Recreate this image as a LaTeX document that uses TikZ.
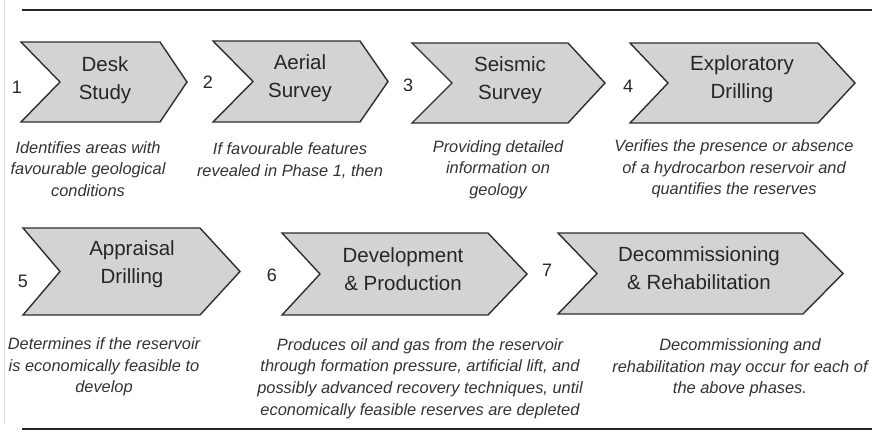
\documentclass[tikz,border=0pt]{standalone}
\usepackage{fontspec}
\setmainfont{Liberation Sans}
\definecolor{chevfill}{HTML}{D3D3D3}
\definecolor{chevline}{HTML}{2E2E2E}
\definecolor{labtxt}{HTML}{262626}
\definecolor{desctxt}{HTML}{333333}
\tikzset{
  chevron/.style={draw=chevline, fill=chevfill, line width=1.4pt, line join=miter},
  steplabel/.style={text=labtxt, align=center, inner sep=0pt, font=\fontsize{20.5}{28}\selectfont},
  stepnum/.style={text=labtxt, inner sep=0pt, font=\fontsize{18}{20}\selectfont},
  stepdesc/.style={text=desctxt, align=center, inner sep=0pt, font=\fontsize{16.4}{21.6}\selectfont\itshape},
  rule/.style={draw=black!85, line width=2.4pt}
}
% #1 left x, #2 top y, #3 bottom y, #4 notch x, #5 top-right x, #6 tip x
\newcommand{\mychevron}[6]{%
  \path[chevron] (#1,#2) -- (#5,#2) -- (#6,{(#2+#3)/2}) -- (#5,#3) -- (#1,#3) -- (#4,{(#2+#3)/2}) -- cycle;
}
\begin{document}
\begin{tikzpicture}[x=1pt,y=-1pt]
\useasboundingbox (0,0) rectangle (872,431);
\fill[white] (0,0) rectangle (872,431);
% faint left edge
\draw[black!15, line width=0.8pt] (4,0) -- (4,424);
% rules
\coordinate (tl) at (22,10);
\coordinate (tr) at (872,10);
\coordinate (bl) at (22,429);
\coordinate (br) at (872,429);
\draw[rule] (tl) -- (tr);
\draw[rule] (bl) -- (br);

% top row chevrons
\mychevron{21}{42}{122}{60}{160}{187}
\mychevron{213}{41}{122}{253}{360}{388}
\mychevron{412}{43}{123}{452}{568}{605}
\mychevron{630}{43}{123}{668}{818}{855}
% bottom row chevrons
\mychevron{23}{228}{315}{60}{200}{240}
\mychevron{282}{233}{315}{320}{488}{527}
\mychevron{558}{233}{314}{597}{803}{843}

% labels
\node[steplabel] (l1) at (105,80) {Desk\\Study};
\node[steplabel] (l2) at (300,78) {Aerial\\Survey};
\node[steplabel] (l3) at (510,80) {Seismic\\Survey};
\node[steplabel] (l4) at (742,79) {Exploratory\\Drilling};
\node[steplabel] (l5) at (132,264) {Appraisal\\Drilling};
\node[steplabel] (l6) at (403,269) {Development\\\& Production};
\node[steplabel] (l7) at (699,268) {Decommissioning\\\& Rehabilitation};

% numbers
\node[stepnum] (n1) at (17,87) {1};
\node[stepnum] (n2) at (208,82) {2};
\node[stepnum] (n3) at (408,85) {3};
\node[stepnum] (n4) at (628,86) {4};
\node[stepnum] (n5) at (23,281) {5};
\node[stepnum] (n6) at (272,275) {6};
\node[stepnum] (n7) at (547,270) {7};

% descriptions
\node[stepdesc] (d1) at (88,169) {Identifies areas with\\favourable geological\\conditions};
\node[stepdesc] (d2) at (290,160.5) {If favourable features\\revealed in Phase 1, then};
\node[stepdesc] (d3) at (498,169.5) {Providing detailed\\information on\\geology};
\node[stepdesc] (d4) at (734,169) {Verifies the presence or absence\\of a hydrocarbon reservoir and\\quantifies the reserves};
\node[stepdesc] (d5) at (104,367) {Determines if the reservoir\\is economically feasible to\\develop};
\node[stepdesc] (d6) at (420,378.5) {Produces oil and gas from the reservoir\\through formation pressure, artificial lift, and\\possibly advanced recovery techniques, until\\economically feasible reserves are depleted};
\node[stepdesc] (d7) at (740,368) {Decommissioning and\\rehabilitation may occur for each of\\the above phases.};
\end{tikzpicture}
\end{document}
